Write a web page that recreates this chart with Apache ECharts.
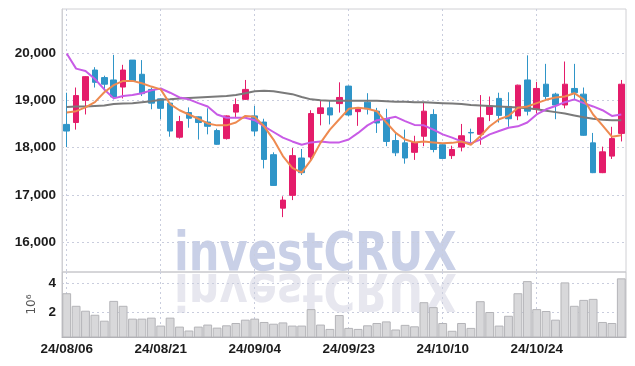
<!DOCTYPE html>
<html>
<head>
<meta charset="utf-8">
<script src="https://cdn.jsdelivr.net/npm/echarts@6/dist/echarts.min.js"></script>
<style>
  html, body { margin: 0; padding: 0; background: #fff; }
  #chart { width: 635px; height: 366px; }
</style>
</head>
<body>
<div id="chart"></div>
<script>
// trading days, yy/mm/dd
const dates = [
  '24/08/06', '24/08/07', '24/08/08', '24/08/09', '24/08/12', '24/08/13', '24/08/14', '24/08/16', '24/08/19', '24/08/20',
  '24/08/21', '24/08/22', '24/08/23', '24/08/26', '24/08/27', '24/08/28', '24/08/29', '24/08/30', '24/09/02', '24/09/03',
  '24/09/04', '24/09/05', '24/09/06', '24/09/09', '24/09/10', '24/09/11', '24/09/12', '24/09/13', '24/09/19', '24/09/20',
  '24/09/23', '24/09/24', '24/09/25', '24/09/26', '24/09/27', '24/09/30', '24/10/02', '24/10/04', '24/10/07', '24/10/08',
  '24/10/10', '24/10/11', '24/10/14', '24/10/15', '24/10/16', '24/10/17', '24/10/18', '24/10/21', '24/10/22', '24/10/23',
  '24/10/24', '24/10/25', '24/10/28', '24/10/29', '24/10/30', '24/10/31', '24/11/01', '24/11/04', '24/11/05', '24/11/06'
]

const opens = [
  18490, 18530, 19000, 19640, 19480, 19430, 19280, 19850, 19550, 19230,
  19030, 18940, 18220, 18740, 18650, 18540, 18360, 18190, 18750, 19020,
  18670, 18540, 17850, 16720, 16990, 17780, 17800, 18720, 18840, 18930,
  19300, 18760, 18960, 18770, 18600, 18150, 18100, 17900, 18240, 18700,
  18060, 17830, 18010, 18320, 18280, 18700, 19040, 18870, 18670, 19430,
  18810, 19340, 19130, 18900, 19250, 19130, 18100, 17470, 17820, 18300
]
const closes = [
  18350, 19100, 19500, 19380, 19340, 19070, 19640, 19410, 19140, 18940,
  18830, 18350, 18550, 18620, 18530, 18450, 18070, 18670, 18910, 19230,
  18350, 17750, 17200, 16890, 17830, 17470, 18720, 18840, 18690, 19060,
  18690, 18810, 18820, 18520, 18130, 17890, 17780, 18110, 18770, 17960,
  17770, 17960, 18250, 18310, 18630, 18880, 18680, 18610, 19320, 18770,
  19250, 19080, 18900, 19340, 19160, 18260, 17470, 17910, 18190, 19340
]
const lows = [
  18010, 18380, 18700, 19270, 19200, 19020, 19040, 19400, 19090, 18810,
  18600, 18230, 18190, 18420, 18170, 18280, 18060, 18170, 18630, 19010,
  18240, 17560, 17190, 16530, 16890, 17420, 17740, 18470, 18490, 18740,
  18660, 18460, 18700, 18310, 18030, 17820, 17660, 17740, 18030, 17900,
  17760, 17760, 17920, 18100, 18060, 18560, 18530, 18440, 18580, 18680,
  18720, 19020, 18600, 18830, 19000, 18250, 17460, 17460, 17760, 18130
]
const highs = [
  19160, 19270, 19510, 19700, 19520, 19960, 19750, 19850, 19850, 19270,
  19040, 18950, 18670, 18850, 18660, 18830, 18400, 18680, 19040, 19430,
  18880, 18610, 17900, 16970, 17990, 17970, 18790, 18990, 18990, 19380,
  19310, 18820, 19150, 18840, 18820, 18310, 18380, 18250, 18960, 18810,
  18080, 18040, 18500, 18400, 19110, 19080, 19160, 19170, 19330, 19950,
  19390, 19770, 19160, 19820, 19770, 19270, 18310, 18020, 18440, 19430
]

// moving averages as drawn
const ma5 = [
  18740, 18770, 18850, 18960, 19170, 19320, 19410, 19410, 19360, 19290,
  19230, 18920, 18790, 18700, 18610, 18510, 18470, 18470, 18530, 18670,
  18650, 18450, 18170, 17820, 17570, 17470, 17740, 18100, 18380, 18600,
  18820, 18840, 18820, 18770, 18530, 18310, 18170, 18110, 18130, 18110,
  18090, 18100, 18130, 18060, 18240, 18450, 18600, 18670, 18840, 18870,
  18940, 19010, 19060, 19080, 19150, 19020, 18700, 18470, 18230, 18260
]
const ma20 = [
  19990, 19670, 19620, 19450, 19230, 19040, 19090, 19110, 19150, 19210,
  19250, 19160, 19060, 19020, 18940, 18870, 18700, 18630, 18630, 18630,
  18580, 18450, 18330, 18210, 18130, 18060, 18110, 18130, 18110, 18110,
  18170, 18310, 18470, 18580, 18610, 18650, 18560, 18480, 18470, 18380,
  18280, 18210, 18130, 18090, 18170, 18280, 18350, 18420, 18450, 18530,
  18700, 18810, 18880, 18960, 19020, 18940, 18870, 18790, 18670, 18700
]
const ma60 = [
  18860, 18870, 18870, 18880, 18890, 18920, 18930, 18940, 18960, 18980,
  19010, 19020, 19040, 19050, 19060, 19070, 19080, 19090, 19110, 19150,
  19190, 19200, 19190, 19160, 19130, 19070, 19020, 19000, 18990, 18990,
  18990, 18990, 18990, 18990, 18980, 18970, 18970, 18960, 18960, 18950,
  18940, 18930, 18920, 18900, 18890, 18880, 18870, 18860, 18850, 18830,
  18810, 18780, 18750, 18720, 18680, 18640, 18610, 18590, 18580, 18580
]

// volume, millions of shares
const volume = [
  3.33, 2.46, 2.12, 1.84, 1.43, 2.80, 2.46, 1.57, 1.57, 1.64,
  1.09, 1.64, 1.02, 0.75, 1.02, 1.16, 0.95, 1.11, 1.27, 1.50,
  1.57, 1.34, 1.22, 1.31, 1.09, 1.09, 2.23, 1.16, 0.86, 1.82,
  0.93, 0.86, 1.11, 1.27, 1.38, 0.82, 1.14, 1.04, 2.71, 2.37,
  1.27, 0.73, 1.27, 0.93, 2.78, 2.03, 1.09, 1.77, 3.33, 4.17,
  2.23, 2.10, 1.50, 4.08, 2.46, 2.87, 2.94, 1.34, 1.27, 4.36
]

const priceTicks = [16000, 17000, 18000, 19000, 20000]
const volumeTicks = [2, 4]

const labelFont = "'Liberation Sans', Arial, sans-serif"
const gridLine = { show: true, lineStyle: { color: '#c9cddd', type: [2, 3], width: 1 } }

const candles = dates.map((d, i) => [opens[i], closes[i], lows[i], highs[i]])

const chart = echarts.init(document.getElementById('chart'))

chart.setOption({
  animation: false,
  backgroundColor: '#fff',
  grid: [
    { left: 62, right: 9, top: 9, height: 263, show: true, borderColor: '#d0d0d4', borderWidth: 1 },
    { left: 62, right: 9, top: 272, height: 65, show: true, borderColor: '#c4c4c8', borderWidth: 1 }
  ],
  xAxis: [
    {
      type: 'category',
      gridIndex: 0,
      data: dates,
      axisLine: { show: false },
      axisTick: { show: false },
      axisLabel: { show: false },
      splitLine: Object.assign({ interval: 9, alignWithLabel: true }, gridLine)
    },
    {
      type: 'category',
      gridIndex: 1,
      data: dates,
      axisLine: { lineStyle: { color: '#b0b0b4' } },
      axisTick: { show: false },
      axisLabel: {
        interval: 9,
        margin: 5,
        fontFamily: labelFont,
        fontSize: 13.5,
        fontWeight: 'bold',
        color: '#1c1c1c'
      },
      splitLine: Object.assign({ interval: 9, alignWithLabel: true }, gridLine)
    }
  ],
  yAxis: [
    {
      type: 'value',
      gridIndex: 0,
      min: 15370,
      max: 20930,
      axisLine: { show: true, lineStyle: { color: '#d0d0d4' } },
      axisTick: { show: false, customValues: priceTicks },
      axisLabel: {
        customValues: priceTicks,
        margin: 6,
        fontFamily: labelFont,
        fontSize: 13.5,
        fontWeight: 'bold',
        color: '#1c1c1c',
        formatter: v => v.toLocaleString('en-US')
      },
      splitLine: gridLine
    },
    {
      type: 'value',
      gridIndex: 1,
      min: 0.3,
      max: 4.8,
      name: '10⁶',
      nameLocation: 'middle',
      nameRotate: 90,
      nameGap: 24,
      nameTextStyle: { fontFamily: 'DejaVu Sans', fontSize: 12, color: '#555' },
      axisLine: { show: true, lineStyle: { color: '#c4c4c8' } },
      axisTick: { show: false, customValues: volumeTicks },
      axisLabel: {
        customValues: volumeTicks,
        margin: 6,
        fontFamily: labelFont,
        fontSize: 13.5,
        fontWeight: 'bold',
        color: '#1c1c1c'
      },
      splitLine: gridLine
    }
  ],
  graphic: [
    {
      type: 'text',
      x: 174,
      y: 283,
      scaleX: 0.8,
      z: -1,
      silent: true,
      style: {
        text: 'investCRUX',
        font: "bold 54px 'DejaVu Sans'",
        fill: '#c9d0e7',
        textAlign: 'left',
        textVerticalAlign: 'bottom'
      }
    },
    {
      type: 'text',
      x: 174,
      y: 262,
      scaleX: 0.8,
      scaleY: -0.95,
      z: -1,
      silent: true,
      style: {
        text: 'investCRUX',
        font: "bold 54px 'DejaVu Sans'",
        fill: '#e7e7ef',
        textAlign: 'left',
        textVerticalAlign: 'bottom'
      }
    }
  ],
  series: [
    {
      type: 'candlestick',
      xAxisIndex: 0,
      yAxisIndex: 0,
      data: candles,
      barWidth: 6,
      itemStyle: {
        color: '#e41c6a',
        color0: '#2f95c8',
        borderColor: '#e41c6a',
        borderColor0: '#2f95c8',
        borderWidth: 1
      }
    },
    {
      type: 'line',
      xAxisIndex: 0,
      yAxisIndex: 0,
      data: ma60,
      symbol: 'none',
      lineStyle: { color: '#7a7a7a', width: 2 }
    },
    {
      type: 'line',
      xAxisIndex: 0,
      yAxisIndex: 0,
      data: ma20,
      symbol: 'none',
      lineStyle: { color: '#c85be6', width: 2 }
    },
    {
      type: 'line',
      xAxisIndex: 0,
      yAxisIndex: 0,
      data: ma5,
      symbol: 'none',
      lineStyle: { color: '#ee8a50', width: 2 }
    },
    {
      type: 'bar',
      xAxisIndex: 1,
      yAxisIndex: 1,
      data: volume,
      barCategoryGap: '6%',
      itemStyle: { color: '#d8d8da', borderColor: '#b4b4b8', borderWidth: 1 }
    }
  ]
})
</script>
</body>
</html>
